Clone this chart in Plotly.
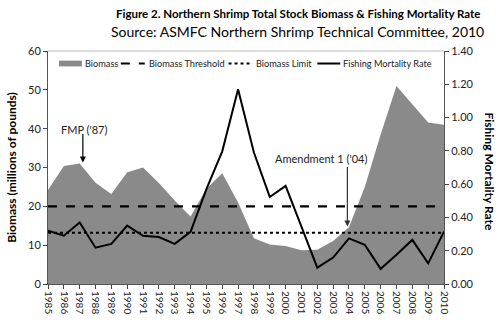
import plotly.graph_objects as go

years = list(range(1985, 2011))
biomass = [24.2, 30.4, 31.0, 26.1, 23.2, 28.8, 30.0, 26.0, 21.5, 17.4, 24.5, 28.5, 21.0,
           11.8, 10.2, 9.8, 8.7, 8.8, 11.1, 14.6, 25.0, 38.5, 51.0, 46.2, 41.6, 41.0]
mortality = [0.32, 0.29, 0.37, 0.218, 0.241, 0.351, 0.29, 0.282, 0.241, 0.313, 0.57, 0.797,
             1.17, 0.79, 0.523, 0.59, 0.345, 0.098, 0.159, 0.274, 0.236, 0.091, 0.176, 0.265,
             0.124, 0.315]
threshold = 20.0
limit = 13.2
left_ticks = [0, 10, 20, 30, 40, 50, 60]
right_ticks = [0.0, 0.2, 0.4, 0.6, 0.8, 1.0, 1.2, 1.4]

FONT = "Lato"
W, H = 500, 326
L, R, T, B = 47, 56, 51, 33
PW, PH = W - L - R, H - T - B


def px(x):
    return (x - L) / PW


def py(y):
    return (H - B - y) / PH


fig = go.Figure()
fig.add_trace(go.Scatter(x=years, y=biomass, name="Biomass", mode="lines",
                         fill="tozeroy", fillcolor="#8a8a8a", line=dict(width=0, color="#8a8a8a")))
fig.add_trace(go.Scatter(x=years, y=[threshold] * len(years), name="Biomass Threshold",
                         mode="lines", line=dict(color="black", width=2.2, dash="dash")))
fig.add_trace(go.Scatter(x=years, y=[limit] * len(years), name="Biomass Limit",
                         mode="lines", line=dict(color="black", width=2, dash="dot")))
fig.add_trace(go.Scatter(x=years, y=mortality, name="Fishing Mortality Rate", mode="lines",
                         yaxis="y2", line=dict(color="black", width=2)))

fig.update_layout(
    width=W, height=H, margin=dict(l=L, r=R, t=T, b=B),
    paper_bgcolor="white", plot_bgcolor="white",
    font=dict(family=FONT, color="#222", size=11),
    showlegend=False,
    title=dict(text="<b>Figure 2. Northern Shrimp Total Stock Biomass & Fishing Mortality Rate</b>",
               x=116 / W, xref="container", xanchor="left",
               y=1 - 14 / H, yref="container", yanchor="middle",
               font=dict(size=11.5, family=FONT, color="black")),
    xaxis=dict(range=[1985, 2010], tickmode="array", tickvals=years,
               ticktext=[str(y) for y in years], tickangle=90, ticks="outside",
               ticklen=4, showgrid=False, showline=True, linecolor="#555",
               tickfont=dict(size=10), zeroline=False),
    yaxis=dict(range=[0, 60], tickvals=left_ticks, ticks="outside", ticklen=4,
               showgrid=False, showline=True, linecolor="#555", zeroline=False,
               title=dict(text="<b>Biomass (millions of pounds)</b>", font=dict(size=12, color="black"),
                          standoff=8)),
    yaxis2=dict(range=[0, 1.4], tickvals=right_ticks, tickformat=".2f", overlaying="y",
                side="right", ticks="outside", ticklen=4, showgrid=False, showline=True,
                linecolor="#555", zeroline=False),
)

shapes = [dict(type="line", xref="paper", yref="paper", x0=0, x1=1, y0=1, y1=1,
               line=dict(color="#bbb", width=1))]
annos = []

# custom legend (single row, as in the reference)
ly = py(64)
shapes.append(dict(type="rect", xref="paper", yref="paper", x0=px(58), x1=px(81),
                   y0=py(67), y1=py(61), fillcolor="#8a8a8a", line=dict(width=0)))
shapes.append(dict(type="line", xref="paper", yref="paper", x0=px(120), x1=px(144),
                   y0=ly, y1=ly, line=dict(color="black", width=2.2, dash="dash")))
shapes.append(dict(type="line", xref="paper", yref="paper", x0=px(228), x1=px(252),
                   y0=ly, y1=ly, line=dict(color="black", width=2, dash="dot")))
shapes.append(dict(type="line", xref="paper", yref="paper", x0=px(317), x1=px(340),
                   y0=ly, y1=ly, line=dict(color="black", width=2)))
for txt, x0 in [("Biomass", 82), ("Biomass Threshold", 146), ("Biomass Limit", 254),
                ("Fishing Mortality Rate", 341)]:
    annos.append(dict(x=px(x0), y=ly, xref="paper", yref="paper", xanchor="left",
                      yanchor="middle", text=txt, showarrow=False,
                      font=dict(size=9.2, family=FONT, color="#222")))

# FMP annotation
annos.append(dict(x=1987.2, y=31.3, ax=0, ay=-30, text="", showarrow=True,
                  arrowhead=2, arrowsize=1, arrowwidth=1.2, arrowcolor="black"))
annos.append(dict(x=px(83), y=py(133), xref="paper", yref="paper", text="FMP ('87)",
                  xanchor="center", yanchor="middle",
                  showarrow=False, font=dict(size=11, family=FONT, color="#222")))
# Amendment annotation
annos.append(dict(x=2003.9, y=14.8, ax=0, ay=-61, text="", showarrow=True,
                  arrowhead=2, arrowsize=1, arrowwidth=1.2, arrowcolor="#333"))
annos.append(dict(x=px(321), y=py(163), xref="paper", yref="paper", text="Amendment 1 ('04)",
                  xanchor="center", yanchor="middle",
                  showarrow=False, font=dict(size=11, family=FONT, color="#222")))

# right axis title (reads top to bottom)
annos.append(dict(x=px(490), y=py(176), xref="paper", yref="paper", textangle=90,
                  xanchor="center", yanchor="middle",
                  text="<b>Fishing Mortality Rate</b>", showarrow=False,
                  font=dict(size=12, family=FONT, color="black")))

# subtitle
annos.append(dict(x=px(297), y=py(31), xref="paper", yref="paper", xanchor="center",
                  yanchor="middle",
                  text="Source: ASMFC Northern Shrimp Technical Committee, 2010",
                  showarrow=False, font=dict(size=14, family=FONT, color="black")))

fig.update_layout(shapes=shapes, annotations=annos)
fig.write_html("out.html")
